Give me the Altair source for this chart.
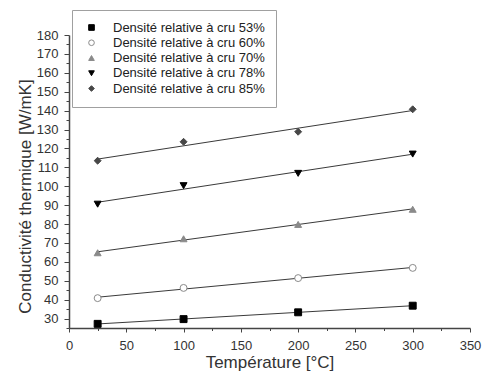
import altair as alt
import pandas as pd

temperature = [25, 100, 200, 300]
series_names = [
    "Densité relative à cru 53%",
    "Densité relative à cru 60%",
    "Densité relative à cru 70%",
    "Densité relative à cru 78%",
    "Densité relative à cru 85%",
]
d53 = [27.2, 29.7, 33.3, 36.8]
d60 = [40.8, 46.2, 51.4, 56.8]
d70 = [64.8, 72.2, 79.8, 87.8]
d78 = [90.5, 100.3, 106.8, 117.0]
d85 = [113.5, 123.5, 128.8, 140.7]

x_ticks = list(range(0, 351, 25))
y_ticks = list(range(25, 181, 5))

shapes = ["square", "circle", "triangle-up", "triangle-down", "diamond"]
fills = ["#000000", "#ffffff", "#8a8a8a", "#000000", "#474747"]
strokes = ["#000000", "#8a8a8a", "#8a8a8a", "#000000", "#474747"]

rows = []
for name, vals in zip(series_names, [d53, d60, d70, d78, d85]):
    for t, v in zip(temperature, vals):
        rows.append({"T": t, "k": v, "series": name})
df = pd.DataFrame(rows)

FONT = "Liberation Sans"
xscale = alt.Scale(domain=[0, 350], nice=False, zero=False)
yscale = alt.Scale(domain=[25, 180], nice=False, zero=False)

xaxis = alt.Axis(
    values=x_ticks,
    labelExpr="datum.value % 50 === 0 ? datum.label : ''",
    tickSize={"condition": {"test": "datum.value % 50 === 0", "value": 4}, "value": 2.5},
    labelFlush=False,
    labelOverlap=False,
    labelPadding=7,
    grid=False,
    title="Température [°C]",
    titlePadding=2,
)
yaxis = alt.Axis(
    values=y_ticks,
    labelExpr="datum.value % 10 === 0 ? datum.label : ''",
    tickSize={"condition": {"test": "datum.value % 10 === 0", "value": 5}, "value": 3},
    labelFlush=False,
    labelOverlap=False,
    labelPadding=6,
    grid=False,
    title="Conductivité thermique [W/mK]",
    titlePadding=2,
    titleY=161,
)

legend = alt.Legend(
    title=None,
    orient="none",
    legendX=3,
    legendY=-25,
    padding=11,
    symbolOffset=2,
    labelOffset=15,
    rowPadding=1.25,
    labelFontSize=13,
    labelFont=FONT,
    labelColor="#222222",
    strokeColor="#a0a0a0",
    fillColor="#ffffff",
    symbolSize=32,
    symbolStrokeWidth=1,
)

lines = (
    alt.Chart(df)
    .transform_regression("T", "k", groupby=["series"])
    .mark_line(color="#3a3a3a", strokeWidth=1)
    .encode(
        x=alt.X("T:Q", scale=xscale, axis=xaxis),
        y=alt.Y("k:Q", scale=yscale, axis=yaxis),
        detail="series:N",
    )
)

points = (
    alt.Chart(df)
    .mark_point(filled=True, opacity=1, size=48, strokeWidth=1)
    .encode(
        x=alt.X("T:Q", scale=xscale, axis=xaxis),
        y=alt.Y("k:Q", scale=yscale, axis=yaxis),
        shape=alt.Shape("series:N", scale=alt.Scale(domain=series_names, range=shapes), legend=legend),
        fill=alt.Fill("series:N", scale=alt.Scale(domain=series_names, range=fills), legend=legend),
        stroke=alt.Stroke("series:N", scale=alt.Scale(domain=series_names, range=strokes), legend=legend),
    )
)

chart = (
    alt.layer(lines, points)
    .properties(
        width=401,
        height=293,
        autosize=alt.AutoSizeParams(type="none"),
        padding={"left": 69, "top": 35, "right": 15, "bottom": 44},
        background="white",
    )
    .configure_view(stroke=None)
    .configure_axis(
        labelFont=FONT,
        labelFontSize=13,
        labelColor="#333333",
        titleFont=FONT,
        titleFontSize=17,
        titleFontWeight="normal",
        titleColor="#333333",
        domainColor="#444444",
        domainWidth=1.5,
        tickColor="#444444",
        tickWidth=1,
    )
)

chart.save("out.html", embed_options={"renderer": "svg", "actions": False})
